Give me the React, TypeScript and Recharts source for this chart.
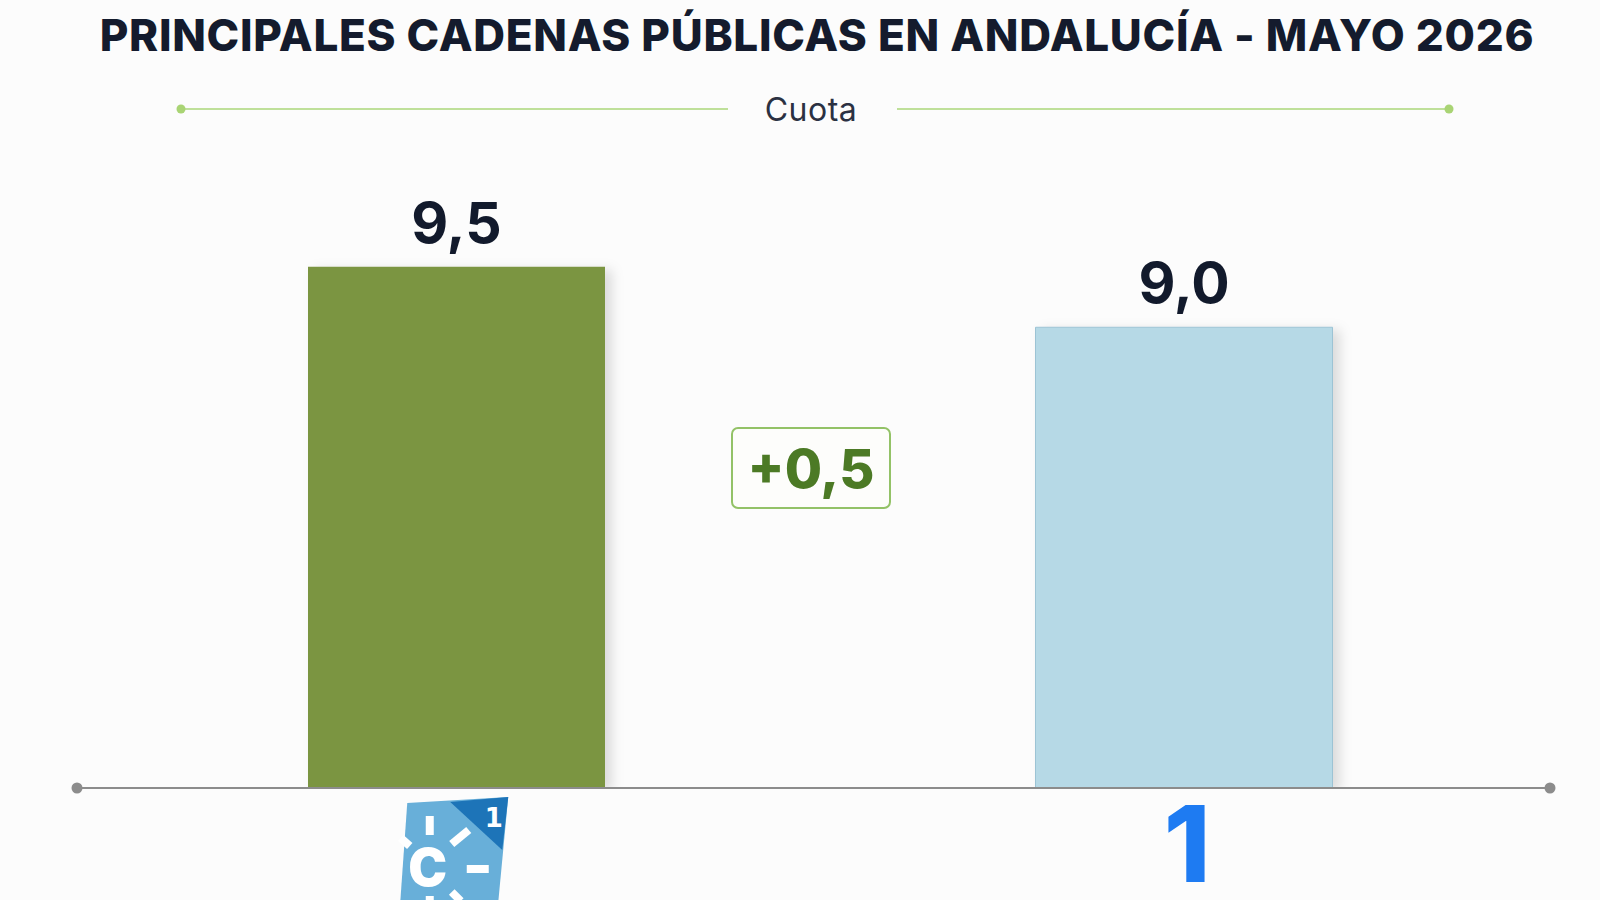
import { BarChart, Bar, XAxis, YAxis, Cell, LabelList } from "recharts";

const channels = ["Canal Sur", "La 1"];
const shares = [9.5, 9.0];
const seriesName = "Cuota";
const title = "PRINCIPALES CADENAS PÚBLICAS EN ANDALUCÍA - MAYO 2026";
const barColors = ["#7b9541", "#b6d9e6"];

const data = channels.map((c, i) => ({ canal: c, cuota: shares[i] }));
const fmt = (v: number) => v.toFixed(1).replace(".", ",");
const diff = shares[0] - shares[1];

const ChannelTick = ({ x, y, payload }: any) => {
  if (payload.value === "Canal Sur") {
    return (
      <g transform={`translate(${x},${y})`}>
        <polygon points="-49.5,15 51.5,9 41.5,114 -56.5,114" fill="#68afd9" />
        <polygon points="-6.5,14 51.5,9 45.5,62" fill="#1d74b8" />
        <text x={37} y={39} textAnchor="middle" fontSize={26} fontWeight={700} fill="#fff" fontFamily="DejaVu Sans">
          1
        </text>
        <g stroke="#fff" strokeWidth={8}>
          <line x1={-27} y1={28} x2={-27} y2={47} />
          <line x1={-5} y1={56} x2={12} y2={42} />
          <line x1={10} y1={81} x2={32} y2={81} />
          <line x1={-47} y1={58} x2={-56} y2={50} />
          <line x1={-5} y1={104} x2={4} y2={113} />
          <line x1={-27} y1={108} x2={-27} y2={114} />
        </g>
        <text x={-29} y={98} textAnchor="middle" fontSize={52} fontWeight={900} fill="#fff" fontFamily="Inter">
          C
        </text>
      </g>
    );
  }
  return (
    <text x={x + 3} y={y + 94} textAnchor="middle" fontSize={106} fontWeight={800} fill="#1e7bf2" fontFamily="Inter">
      1
    </text>
  );
};

export default function App() {
  return (
    <div
      style={{
        position: "absolute",
        left: 0,
        top: 0,
        width: 1600,
        height: 900,
        background: "#fcfcfc",
        overflow: "hidden",
        fontFamily: "Inter, sans-serif",
      }}
    >
      <div
        style={{
          position: "absolute",
          left: 17,
          top: 10,
          width: 1600,
          textAlign: "center",
          fontSize: 44,
          fontWeight: 800,
          letterSpacing: 0.7,
          color: "#141b2d",
          lineHeight: "50px",
        }}
      >
        {title}
      </div>

      {/* leyenda */}
      <svg style={{ position: "absolute", left: 0, top: 0 }} width={1600} height={900}>
        <line x1={181} y1={109} x2={728} y2={109} stroke="#bfe09a" strokeWidth={2} />
        <line x1={897} y1={109} x2={1449} y2={109} stroke="#bfe09a" strokeWidth={2} />
        <circle cx={181} cy={109} r={4.5} fill="#a9d474" />
        <circle cx={1449} cy={109} r={4.5} fill="#a9d474" />
        <text x={811} y={121} textAnchor="middle" fontSize={32} fill="#2b3142" fontFamily="Inter" letterSpacing={0.5}>
          {seriesName}
        </text>
      </svg>

      <div style={{ position: "absolute", left: 0, top: 0 }}>
        <BarChart width={1600} height={900} data={data} margin={{ top: 206, right: 52, bottom: 0, left: 93 }}>
          <XAxis
            dataKey="canal"
            height={112}
            axisLine={false}
            tickLine={false}
            tickSize={0}
            tickMargin={0}
            interval={0}
            tick={<ChannelTick />}
          />
          <YAxis hide domain={[5.2, 10]} allowDataOverflow />
          <Bar dataKey="cuota" barSize={297} isAnimationActive={false}>
            {data.map((d, i) => (
              <Cell
                key={d.canal}
                fill={barColors[i]}
                stroke={i === 1 ? "#9cc3d4" : "none"}
                strokeWidth={1}
                style={{ filter: "drop-shadow(7px 3px 6px rgba(0,0,0,0.13))" }}
              />
            ))}
            <LabelList
              dataKey="cuota"
              position="top"
              offset={24}
              formatter={(v: any) => fmt(Number(v))}
              style={{ fontSize: 57, fontWeight: 700, fill: "#121a2c", fontFamily: "Inter" }}
            />
          </Bar>
        </BarChart>
      </div>

      {/* eje */}
      <svg style={{ position: "absolute", left: 0, top: 0, pointerEvents: "none" }} width={1600} height={900}>
        <line x1={77} y1={788} x2={1550} y2={788} stroke="#8c8c8c" strokeWidth={2} />
        <circle cx={77} cy={788} r={5.5} fill="#8c8c8c" />
        <circle cx={1550} cy={788} r={5.5} fill="#8c8c8c" />
      </svg>

      <div
        style={{
          position: "absolute",
          left: 731,
          top: 427,
          width: 156,
          height: 78,
          border: "2px solid #93c267",
          borderRadius: 7,
          background: "#fdfdfb",
          display: "flex",
          alignItems: "center",
          justifyContent: "center",
          fontSize: 54,
          fontWeight: 800,
          color: "#4c7a25",
        }}
      >
        {"+" + fmt(diff)}
      </div>
    </div>
  );
}
